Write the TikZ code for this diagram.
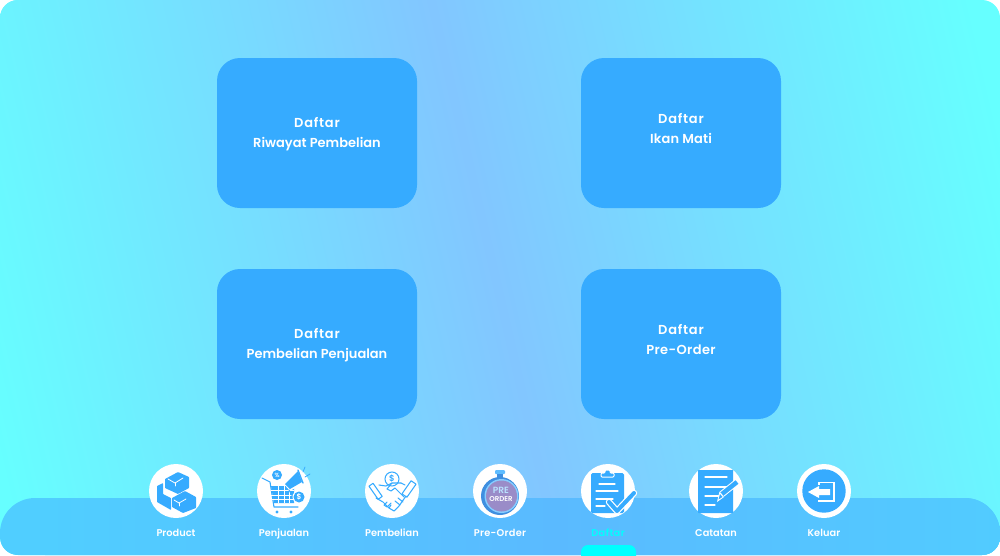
\documentclass[tikz,border=0pt]{standalone}
\usepackage{fontspec}
\setmainfont{Poppins SemiBold}
\usetikzlibrary{calc}
\definecolor{edgecy}{HTML}{66FFFF}
\definecolor{midbl}{HTML}{82C6FF}
\definecolor{cardbl}{HTML}{36ABFF}
\definecolor{baredge}{HTML}{50CEFF}
\definecolor{barmid}{HTML}{5ABAFF}
\definecolor{activecy}{HTML}{00FFFF}
\definecolor{purp}{HTML}{9A8CC8}
\definecolor{rimbl}{HTML}{3F8FE0}
\newcommand{\widelbl}[2]{{\addfontfeatures{LetterSpace=#1}#2}}
\tikzset{
  x=1pt,y=-1pt,
  cardbox/.style={fill=cardbl,rounded corners=23pt},
  cardtxt/.style={text=white,align=center,font=\fontsize{13}{20}\selectfont,inner sep=0pt},
  navtxt/.style={text=white,font=\fontsize{9.8}{12}\selectfont,inner sep=0pt},
  iconbg/.style={circle,fill=white,minimum size=54pt,inner sep=0pt},
  ib/.style={fill=cardbl},
  il/.style={draw=cardbl,line width=1.05pt,line cap=round,line join=round},
  wl/.style={draw=white,line width=1.2pt,line cap=round,line join=round},
}
\begin{document}
\begin{tikzpicture}
\useasboundingbox (0,0) rectangle (1000,555);
\fill[white] (0,0) rectangle (1000,555);
\begin{scope}
  \clip[rounded corners=18pt] (0,0) rectangle (1000,555);
  \fill[edgecy] (0,0) rectangle (1000,555);
  \begin{scope}[transform canvas={rotate around={13:(495,277)}}]
    \shade[left color=edgecy,right color=edgecy,middle color=midbl] (-30,-400) rectangle (1020,1000);
  \end{scope}
  \begin{scope}
    \clip[rounded corners=35pt] (0,570) -- (0,498) -- (1000,498) -- (1000,570) -- cycle;
    \fill[baredge] (0,498) rectangle (1000,570);
    \shade[left color=baredge,right color=baredge,middle color=barmid] (45,498) rectangle (1065,570);
  \end{scope}
\end{scope}
\fill[cardbox] (217,58) rectangle (417,208);
\fill[cardbox] (581,58) rectangle (781,208);
\fill[cardbox] (217,269) rectangle (417,419);
\fill[cardbox] (581,269) rectangle (781,419);
\node[cardtxt] (c1) at (317,134.5) {\widelbl{6}{Daftar}\\Riwayat Pembelian};
\node[cardtxt] (c2) at (681,128) {\widelbl{6}{Daftar}\\\widelbl{1}{Ikan Mati}};
\node[cardtxt] (c3) at (317,345.5) {\widelbl{6}{Daftar}\\Pembelian Penjualan};
\node[cardtxt] (c4) at (681,339) {\widelbl{6}{Daftar}\\\widelbl{3}{Pre-Order}};
\foreach \n/\cx in {a/176,b/284,c/392,d/500,e/608,f/716,g/824}{\node[iconbg] (\n) at (\cx,491) {};}
\node[navtxt,anchor=base] (la) at (176,536) {Product};
\node[navtxt,anchor=base] (lb) at (284,536) {Penjualan};
\node[navtxt,anchor=base] (lc) at (392,536) {Pembelian};
\node[navtxt,anchor=base] (ld) at (500,536) {\widelbl{3}{Pre-Order}};
\node[navtxt,anchor=base,text=activecy] (le) at (608,536) {\widelbl{4}{Daftar}};
\node[navtxt,anchor=base] (lf) at (716,536) {Catatan};
\node[navtxt,anchor=base] (lg) at (824,536) {\widelbl{1}{Keluar}};
\fill[activecy,rounded corners=7pt] (581,565) -- (581,545) -- (636,545) -- (636,565) -- cycle;
% Product icon
\begin{scope}[shift={(176,491)}]
  \fill[ib,rounded corners=0.6pt] (-11,-12) -- (2,-19) -- (13,-14) -- (13,-3) -- (2,3) -- (-11,-3) -- cycle;
  \fill[ib,rounded corners=0.6pt] (-19,-5) -- (-13,-8) -- (-13,3) -- (-5,7) -- (-5,19) -- (-19,11) -- cycle;
  \fill[ib,rounded corners=0.6pt] (-4,7) -- (9,0) -- (20,6) -- (20,17) -- (7,22) -- (-4,16) -- cycle;
  \draw[wl,line width=0.8pt] (-8,-12) -- (-1,-8) -- (7,-13);
  \draw[wl,line width=0.8pt] (-1,-8) -- (-1,-5);
  \draw[wl,line width=0.8pt] (-2,9) -- (3,12) -- (10,8);
  \draw[wl,line width=0.8pt] (3,12) -- (3,15);
\end{scope}
% Penjualan icon
\begin{scope}[shift={(284,491)}]
  \draw[il,line width=1.1pt] (-22,-13) -- (-14,-9) -- (-10,16) -- (14,16);
  \fill[ib] (-13,-5) -- (10,-5) -- (10,12) -- (-10,12) -- cycle;
  \foreach \yy in {-1,4,8}{\draw[white,line width=0.8pt] (-13,\yy) -- (10,\yy);}
  \foreach \xx in {-6,0,5}{\draw[white,line width=0.8pt] (\xx,-5) -- (\xx,12);}
  \fill[ib] (-7,21) circle[radius=1.6];
  \fill[ib] (7,21) circle[radius=1.6];
  \fill[ib] (-7,-16) circle[radius=5];
  \node[text=white,font=\fontsize{6}{6}\selectfont,inner sep=0pt] (pct) at (-7,-16) {\%};
  \fill[white] (-1,-8) -- (14,-22) -- (20,-8) -- (6,0) -- cycle;
  \fill[ib] (1,-7) -- (14,-20) -- (18,-9) -- (6,-2) -- cycle;
  \draw[il] (5,-1) -- (9,6);
  \draw[il,line width=1.3pt] (14,-21) -- (19,-8);
  \draw[il,line width=0.8pt] (19,-19) -- (21,-24);
  \draw[il,line width=0.8pt] (21,-14) -- (26,-17);
  \fill[white] (15,6) circle[radius=6.5];
  \fill[ib] (15,6) circle[radius=5.5];
  \node[text=white,font=\fontsize{7.5}{7.5}\selectfont,inner sep=0pt] (usd) at (15,6) {\$};
\end{scope}
% Pembelian icon
\begin{scope}[shift={(392,491)}]
  \draw[il] (0,-12) circle[radius=7];
  \node[text=cardbl,font=\fontsize{8.5}{8.5}\selectfont,inner sep=0pt] (usd2) at (0,-12) {\$};
  \draw[il,rotate around={35:(-16,0)}] (-19,-8) rectangle (-14,8);
  \draw[il,rotate around={-35:(17,-2)}] (14,-10) rectangle (20,6);
  \draw[il] (-13,-6) -- (-6,-5) -- (0,-8) -- (9,-8);
  \draw[il] (-16,7) -- (-9,11) -- (-3,17) -- (2,20) -- (7,15) -- (14,5);
  \draw[il] (9,-8) -- (13,-6);
  \draw[il] (0,-8) -- (-5,-2) -- (-1,0) -- (3,-3) -- (12,6);
  \draw[il] (-5,11) -- (-8,14) -- (-5,16) -- (-1,12);
  \draw[il] (-1,14) -- (-3,17);
  \draw[il] (3,10) -- (8,14);
  \draw[il] (6,7) -- (11,11);
\end{scope}
% Pre-Order icon
\begin{scope}[shift={(500,491)}]
  \fill[cardbl!80!white,rounded corners=1pt] (-5,-21) rectangle (5,-17);
  \fill[rimbl] (-3,-17) rectangle (3,-13);
  \fill[rimbl] (0,5) circle[radius=19];
  \fill[cardbl!60!white] (1.5,5) circle[radius=17];
  \fill[purp] (1.5,5) circle[radius=15.5];
  \node[text=cardbl!35!white,font=\fontsize{9}{9}\selectfont,inner sep=0pt] (pre) at (1,-0.5) {PRE};
  \node[text=white,font=\fontsize{7}{7}\selectfont,inner sep=0pt] (ord) at (1,8) {ORDER};
\end{scope}
% Daftar icon
\begin{scope}[shift={(608,491)}]
  \fill[ib,rounded corners=1.5pt] (-17,-18) rectangle (16,22);
  \draw[white,line width=1pt,fill=cardbl,rounded corners=1pt] (-7,-14) -- (-7,-18) -- (-3,-18) -- (-3,-21) -- (2,-21) -- (2,-18) -- (6,-18) -- (6,-14) -- cycle;
  \foreach \yy/\xa/\xb in {-7/-9/7,0/-12/10,8/-12/5,15/-12/-3}{\draw[wl] (\xa,\yy) -- (\xb,\yy);}
  \draw[white,line width=6.4pt,line cap=round,line join=round] (1,11) -- (9,20) -- (26,2);
  \draw[cardbl,line width=4pt,line cap=round,line join=round] (1,11) -- (9,20) -- (26,2);
\end{scope}
% Catatan icon
\begin{scope}[shift={(716,491)}]
  \fill[ib,rounded corners=0.5pt] (-18,-21) rectangle (17,22);
  \draw[wl] (-11,-14) -- (11,-14);
  \draw[wl] (-11,-4) -- (11,-4);
  \draw[wl] (-11,5) -- (3,5);
  \draw[wl] (-11,14) -- (-1,14);
  \draw[white,line width=6.5pt,line cap=butt] (21,-9) -- (6,3);
  \draw[cardbl,line width=4.5pt,line cap=butt] (21,-9) -- (6,3);
  \fill[white] (3.5,0.5) -- (8,6) -- (1,11) -- cycle;
  \fill[cardbl] (4,3) -- (6.5,6) -- (2.5,8.5) -- cycle;
\end{scope}
% Keluar icon
\begin{scope}[shift={(824,491)}]
  \fill[ib] (0,0) circle[radius=21.7];
  \fill[white] (-16,1) -- (-5,-5) -- (-5,-2) -- (6,-2) -- (6,4) -- (-5,4) -- (-5,7) -- cycle;
  \draw[white,line width=1.6pt,line join=miter] (-5,-6.5) -- (-5,-8.5) -- (10,-8.5) -- (10,10) -- (-5,10) -- (-5,8.5);
\end{scope}
\end{tikzpicture}
\end{document}
